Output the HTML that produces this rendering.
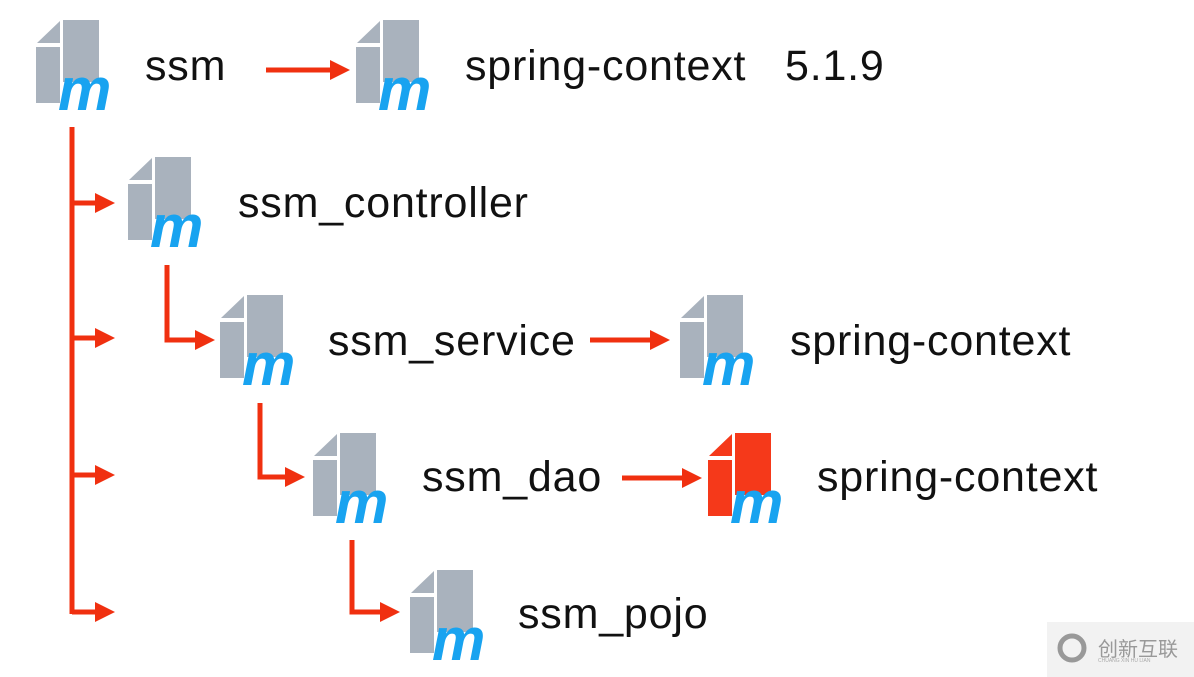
<!DOCTYPE html>
<html><head><meta charset="utf-8"><style>
body{margin:0;width:1194px;height:677px;background:#fff;overflow:hidden;position:relative;font-family:"Liberation Sans","Noto Sans CJK SC",sans-serif}
.t{position:absolute;font-size:43px;letter-spacing:0.8px;color:#111;white-space:nowrap;line-height:1}
</style></head><body>
<svg width="1194" height="677" style="position:absolute;left:0;top:0">
<defs>
<g id="ic">
<polygon points="1,23 24,1 24,23" fill="#a9b2bd"/>
<rect x="27" y="0" width="36" height="62" fill="#a9b2bd"/>
<rect x="0" y="27" width="24" height="56" fill="#a9b2bd"/>
<text x="22" y="90" font-family="Liberation Sans,sans-serif" font-weight="bold" font-style="italic" font-size="60" fill="#18a3f0">m</text>
</g>
<g id="icr">
<polygon points="1,23 24,1 24,23" fill="#f5391a"/>
<rect x="27" y="0" width="36" height="62" fill="#f5391a"/>
<rect x="0" y="27" width="24" height="56" fill="#f5391a"/>
<text x="22" y="90" font-family="Liberation Sans,sans-serif" font-weight="bold" font-style="italic" font-size="60" fill="#18a3f0">m</text>
</g>
<marker id="ar" markerWidth="4" markerHeight="4" refX="1" refY="2" orient="auto" markerUnits="strokeWidth"><path d="M0,0 L4,2 L0,4 z" fill="#f03010"/></marker>
</defs>
<use href="#ic" x="36" y="20"/>
<use href="#ic" x="356" y="20"/>
<use href="#ic" x="128" y="157"/>
<use href="#ic" x="220" y="295"/>
<use href="#ic" x="680" y="295"/>
<use href="#ic" x="313" y="433"/>
<use href="#icr" x="708" y="433"/>
<use href="#ic" x="410" y="570"/>
<g stroke="#f03010" stroke-width="5" fill="none">
<line x1="72" y1="127" x2="72" y2="614"/>
<line x1="72" y1="203" x2="100" y2="203" marker-end="url(#ar)"/>
<line x1="72" y1="338" x2="100" y2="338" marker-end="url(#ar)"/>
<line x1="72" y1="475" x2="100" y2="475" marker-end="url(#ar)"/>
<line x1="72" y1="612" x2="100" y2="612" marker-end="url(#ar)"/>
<polyline points="167,265 167,340 200,340" marker-end="url(#ar)"/>
<polyline points="260,403 260,477 290,477" marker-end="url(#ar)"/>
<polyline points="352,540 352,612 385,612" marker-end="url(#ar)"/>
<line x1="266" y1="70" x2="335" y2="70" marker-end="url(#ar)"/>
<line x1="590" y1="340" x2="655" y2="340" marker-end="url(#ar)"/>
<line x1="622" y1="478" x2="687" y2="478" marker-end="url(#ar)"/>
</g>
<rect x="1047" y="622" width="147" height="55" fill="#f2f2f2"/>
<circle cx="1072" cy="648" r="12" fill="none" stroke="#999" stroke-width="5"/>
<text x="1098" y="656" font-size="20" fill="#999" font-family="Noto Sans CJK SC,sans-serif">创新互联</text>
<text x="1098" y="662" font-size="5" fill="#aaa">CHUANG XIN HU LIAN</text>
</svg>
<div class="t" style="left:145px;top:45px">ssm</div>
<div class="t" style="left:465px;top:45px">spring-context</div>
<div class="t" style="left:785px;top:45px">5.1.9</div>
<div class="t" style="left:238px;top:182px">ssm_controller</div>
<div class="t" style="left:328px;top:320px">ssm_service</div>
<div class="t" style="left:790px;top:320px">spring-context</div>
<div class="t" style="left:422px;top:456px">ssm_dao</div>
<div class="t" style="left:817px;top:456px">spring-context</div>
<div class="t" style="left:518px;top:593px">ssm_pojo</div>
</body></html>
